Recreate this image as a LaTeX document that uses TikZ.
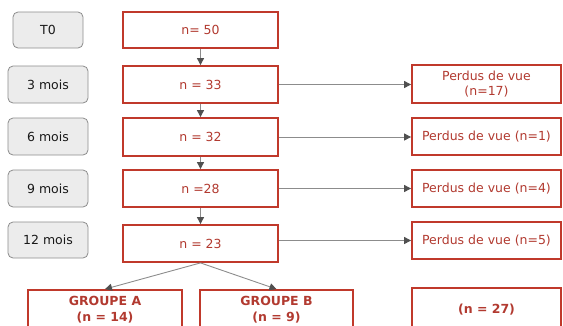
\documentclass[tikz,border=0pt]{standalone}
\usepackage{fontspec}
\setmainfont{DejaVu Sans}
\usetikzlibrary{arrows.meta}
\definecolor{boxred}{RGB}{192,57,43}
\definecolor{txtred}{RGB}{178,58,48}
\definecolor{stagefill}{RGB}{236,236,236}
\definecolor{stageline}{RGB}{140,140,140}
\definecolor{linkgray}{RGB}{140,140,140}
\definecolor{tipgray}{RGB}{80,80,80}
\tikzset{
  stage/.style={draw=stageline, fill=stagefill, rounded corners=5pt, line width=0.8pt,
    text=black!90, font=\fontsize{12.5}{14}\selectfont, inner sep=0pt},
  count/.style={draw=boxred, fill=white, line width=1.8pt, text=txtred,
    font=\fontsize{12.5}{14.5}\selectfont, inner sep=0pt, align=center},
  group/.style={count, font=\bfseries\fontsize{12.5}{16}\selectfont},
  link/.style={draw=linkgray, line width=0.9pt,
    -{Triangle[width=7pt,length=7pt,fill=tipgray,color=tipgray]}},
}
\begin{document}
\begin{tikzpicture}[x=1pt,y=-1pt]
\useasboundingbox (0,0) rectangle (563,325);
\clip (0,0) rectangle (563,325);

% time points
\node[stage, minimum width=70, minimum height=36] (t0)  at (48,30)    {T0};
\node[stage, minimum width=80, minimum height=37] (t3)  at (48,84.5)  {3 mois};
\node[stage, minimum width=80, minimum height=37] (t6)  at (48,136.5) {6 mois};
\node[stage, minimum width=80, minimum height=37] (t9)  at (48,188.5) {9 mois};
\node[stage, minimum width=80, minimum height=36] (t12) at (48,240)   {12 mois};

% cohort size
\node[count, minimum width=155, minimum height=36] (n50) at (200.5,30)    {n= 50};
\node[count, minimum width=155, minimum height=37] (n33) at (200.5,84.5)  {n = 33};
\node[count, minimum width=155, minimum height=38] (n32) at (200.5,137)   {n = 32};
\node[count, minimum width=155, minimum height=37] (n28) at (200.5,188.5) {n =28};
\node[count, minimum width=155, minimum height=37] (n23) at (200.5,243.5) {n = 23};

% lost to follow-up
\node[count, minimum width=149, minimum height=38] (p17) at (486.5,84)    {Perdus de vue\\(n=17)};
\node[count, minimum width=149, minimum height=37] (p1)  at (486.5,136.5) {Perdus de vue (n=1)};
\node[count, minimum width=149, minimum height=37] (p4)  at (486.5,188.5) {Perdus de vue (n=4)};
\node[count, minimum width=149, minimum height=37] (p5)  at (486.5,240.5) {Perdus de vue (n=5)};

% groups
\node[group, minimum width=154, minimum height=40] (ga)  at (105,310)   {GROUPE A\\(n = 14)};
\node[group, minimum width=153, minimum height=40] (gb)  at (276.5,310) {GROUPE B\\(n = 9)};
\node[group, minimum width=149, minimum height=44] (n27) at (486.5,310) {(n = 27)};

% connectors
\draw[link] (n50) -- (n33);
\draw[link] (n33) -- (n32);
\draw[link] (n32) -- (n28);
\draw[link] (n28) -- (n23);
\draw[link] (n33.east) -- (n33.east -| p17.west);
\draw[link] (n32.east) -- (n32.east -| p1.west);
\draw[link] (n28.east) -- (n28.east -| p4.west);
\draw[link] (n23.east |- p5) -- (p5.west);
\draw[link] (n23.south) -- (ga.north);
\draw[link] (n23.south) -- (gb.north);
\end{tikzpicture}
\end{document}
